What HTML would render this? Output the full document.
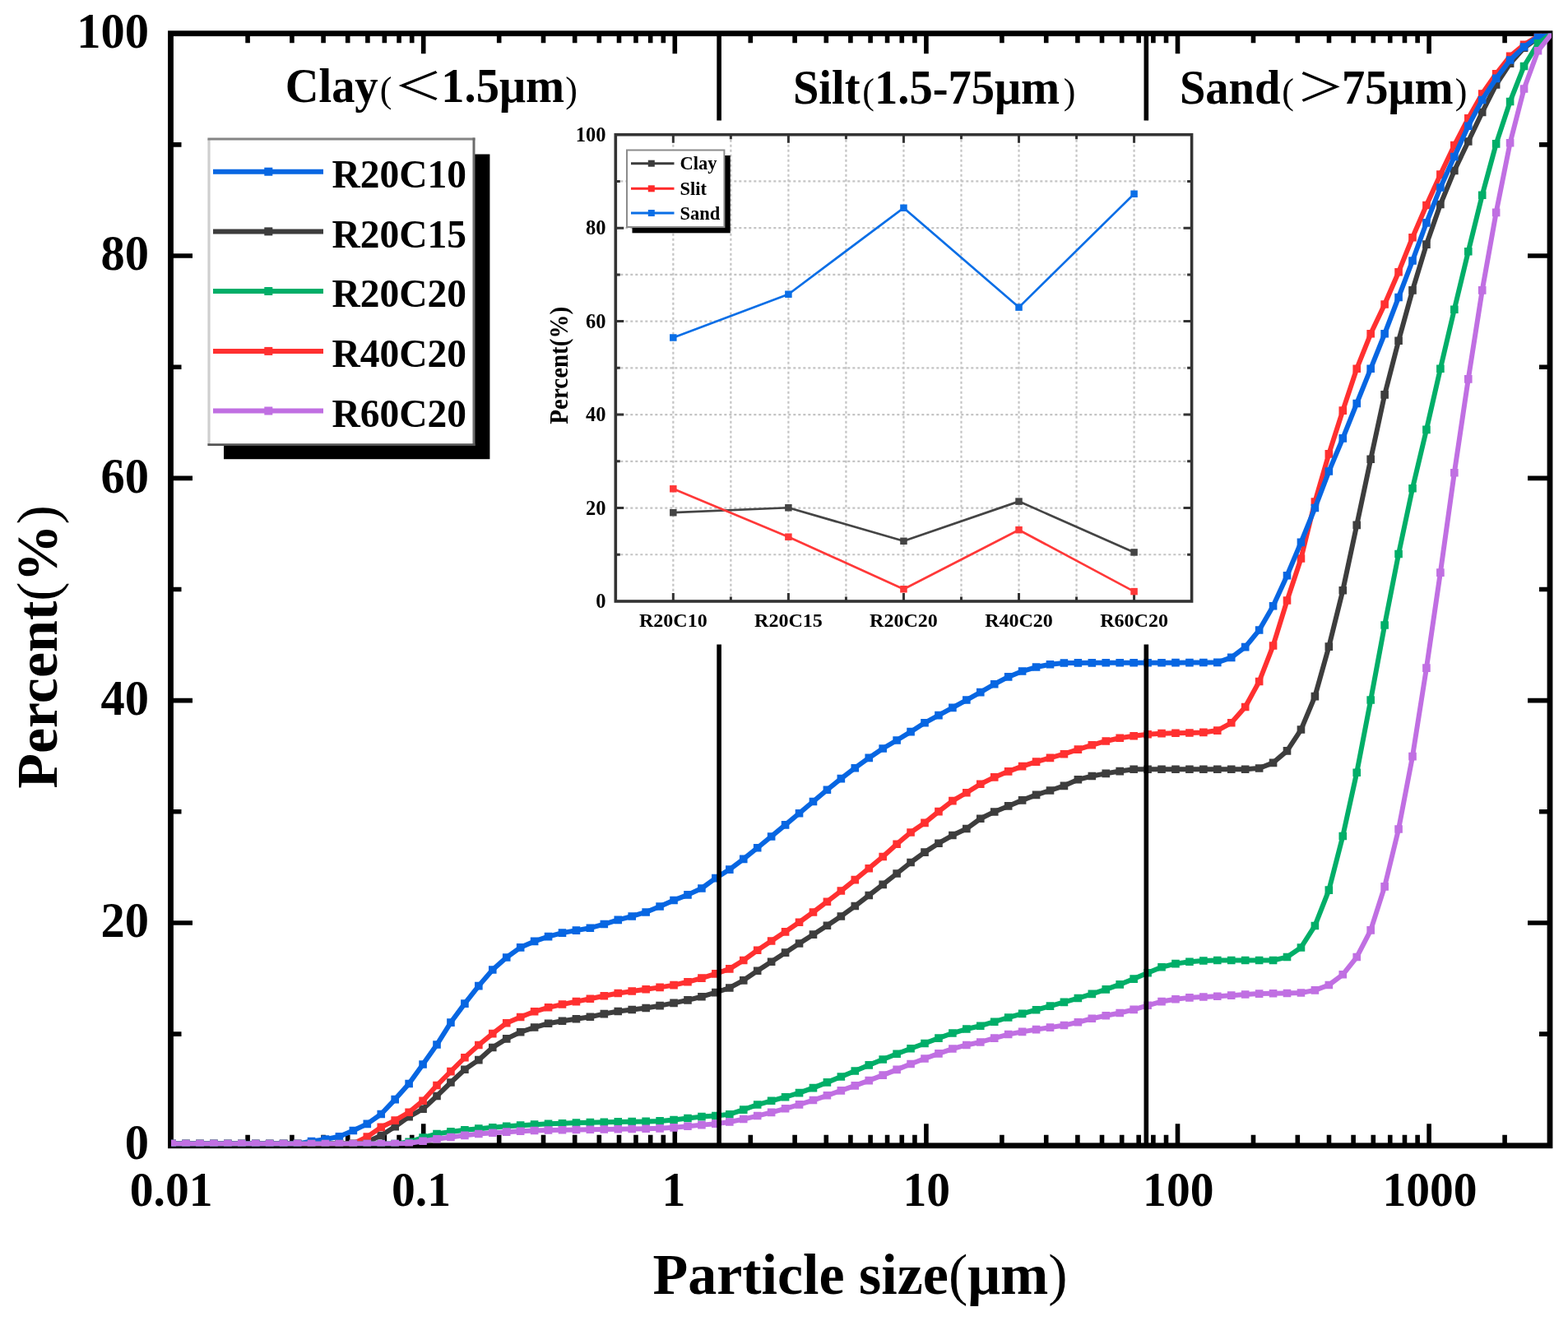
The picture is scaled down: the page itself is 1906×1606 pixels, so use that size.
<!DOCTYPE html>
<html><head><meta charset="utf-8"><title>Particle size distribution</title><style>
html,body{margin:0;padding:0;background:#fff;width:1906px;height:1606px;overflow:hidden}
svg{display:block}
text{font-family:"Liberation Serif","Noto Serif CJK SC",serif;font-weight:bold;fill:#000}
.thin{font-weight:normal}
</style></head><body>
<svg width="1906" height="1606" viewBox="0 0 1906 1606">
<rect width="1906" height="1606" fill="#fff"/>
<defs><clipPath id="pc"><rect x="208" y="40.7" width="1678" height="1352.9"/></clipPath></defs>
<path d="M301.09 1392.8V1379.8M301.09 40.7V52.2M354.91 1392.8V1379.8M354.91 40.7V52.2M393.09 1392.8V1379.8M393.09 40.7V52.2M422.71 1392.8V1379.8M422.71 40.7V52.2M446.9 1392.8V1379.8M446.9 40.7V52.2M467.36 1392.8V1379.8M467.36 40.7V52.2M485.08 1392.8V1379.8M485.08 40.7V52.2M500.72 1392.8V1379.8M500.72 40.7V52.2M514.7 1392.8V1366.3M514.7 40.7V65.2M606.69 1392.8V1379.8M606.69 40.7V52.2M660.51 1392.8V1379.8M660.51 40.7V52.2M698.69 1392.8V1379.8M698.69 40.7V52.2M728.31 1392.8V1379.8M728.31 40.7V52.2M752.5 1392.8V1379.8M752.5 40.7V52.2M772.96 1392.8V1379.8M772.96 40.7V52.2M790.68 1392.8V1379.8M790.68 40.7V52.2M806.32 1392.8V1379.8M806.32 40.7V52.2M820.3 1392.8V1366.3M820.3 40.7V65.2M912.29 1392.8V1379.8M912.29 40.7V52.2M966.11 1392.8V1379.8M966.11 40.7V52.2M1004.29 1392.8V1379.8M1004.29 40.7V52.2M1033.91 1392.8V1379.8M1033.91 40.7V52.2M1058.1 1392.8V1379.8M1058.1 40.7V52.2M1078.56 1392.8V1379.8M1078.56 40.7V52.2M1096.28 1392.8V1379.8M1096.28 40.7V52.2M1111.92 1392.8V1379.8M1111.92 40.7V52.2M1125.9 1392.8V1366.3M1125.9 40.7V65.2M1217.89 1392.8V1379.8M1217.89 40.7V52.2M1271.71 1392.8V1379.8M1271.71 40.7V52.2M1309.89 1392.8V1379.8M1309.89 40.7V52.2M1339.51 1392.8V1379.8M1339.51 40.7V52.2M1363.7 1392.8V1379.8M1363.7 40.7V52.2M1384.16 1392.8V1379.8M1384.16 40.7V52.2M1401.88 1392.8V1379.8M1401.88 40.7V52.2M1417.52 1392.8V1379.8M1417.52 40.7V52.2M1431.5 1392.8V1366.3M1431.5 40.7V65.2M1523.49 1392.8V1379.8M1523.49 40.7V52.2M1577.31 1392.8V1379.8M1577.31 40.7V52.2M1615.49 1392.8V1379.8M1615.49 40.7V52.2M1645.11 1392.8V1379.8M1645.11 40.7V52.2M1669.3 1392.8V1379.8M1669.3 40.7V52.2M1689.76 1392.8V1379.8M1689.76 40.7V52.2M1707.48 1392.8V1379.8M1707.48 40.7V52.2M1723.12 1392.8V1379.8M1723.12 40.7V52.2M1737.1 1392.8V1366.3M1737.1 40.7V65.2M1829.09 1392.8V1379.8M1829.09 40.7V52.2" stroke="#000" stroke-width="5.6" fill="none"/>
<path d="M207.5 1257.14H220.5M1884 1257.14H1871M207.5 1121.98H234M1884 1121.98H1857M207.5 986.82H220.5M1884 986.82H1871M207.5 851.66H234M1884 851.66H1857M207.5 716.5H220.5M1884 716.5H1871M207.5 581.34H234M1884 581.34H1857M207.5 446.18H220.5M1884 446.18H1871M207.5 311.02H234M1884 311.02H1857M207.5 175.86H220.5M1884 175.86H1871" stroke="#000" stroke-width="5.6" fill="none"/>
<rect x="207.5" y="40.7" width="1676.5" height="1352.1" fill="none" stroke="#000" stroke-width="6.8"/>
<g clip-path="url(#pc)">
<polyline points="209.1,1390.6 226.04,1390.6 242.99,1390.6 259.93,1390.6 276.87,1390.6 293.81,1390.6 310.76,1390.6 327.7,1390.6 344.64,1390.6 361.58,1390.6 378.53,1390.6 395.47,1390.6 412.41,1390.6 429.35,1390.6 446.3,1388.25 463.24,1380.51 480.18,1369.79 497.13,1357.66 514.07,1348.23 531.01,1332.44 547.95,1315.99 564.9,1300.26 581.84,1288.64 598.78,1273.52 615.72,1262.85 632.67,1254.75 649.61,1249.06 666.55,1244.26 683.49,1241.27 700.44,1238.8 717.38,1236.21 734.32,1232.64 751.27,1229.45 768.21,1227.46 785.15,1225.45 802.09,1222.67 819.04,1219.42 835.98,1215.85 852.92,1211.73 869.86,1206.63 886.81,1200.98 903.75,1191.85 920.69,1180.3 937.63,1169.29 954.58,1158.17 971.52,1147.05 988.46,1136.17 1005.41,1125.32 1022.35,1113.94 1039.29,1101.57 1056.23,1088.5 1073.18,1075.36 1090.12,1061.98 1107.06,1048.52 1124,1036.12 1140.95,1025.22 1157.89,1015.57 1174.83,1007.56 1191.77,995.25 1208.72,986.93 1225.66,979.9 1242.6,972.88 1259.55,966.4 1276.49,960.99 1293.43,955.33 1310.37,947.74 1327.32,943.57 1344.26,940.36 1361.2,937.58 1378.14,935.31 1395.09,935.28 1412.03,935.26 1428.97,935.25 1445.92,935.25 1462.86,935.24 1479.8,935.23 1496.74,935.21 1513.69,935.18 1530.63,934.02 1547.57,927.34 1564.51,912.87 1581.46,887.04 1598.4,846.61 1615.34,786.17 1632.28,717.75 1649.23,638.37 1666.17,558.32 1683.11,479.89 1700.06,414.31 1717,352.92 1733.94,297.08 1750.88,248.53 1767.83,207.43 1784.77,172 1801.71,136.57 1818.65,102.9 1835.6,77.21 1852.54,58.28 1869.48,46.11 1886.42,40.7" fill="none" stroke="#3d3d3d" stroke-width="6.0" stroke-linejoin="round"/><path d="M204.3 1385.8h9.6v9.6h-9.6zM221.24 1385.8h9.6v9.6h-9.6zM238.19 1385.8h9.6v9.6h-9.6zM255.13 1385.8h9.6v9.6h-9.6zM272.07 1385.8h9.6v9.6h-9.6zM289.01 1385.8h9.6v9.6h-9.6zM305.96 1385.8h9.6v9.6h-9.6zM322.9 1385.8h9.6v9.6h-9.6zM339.84 1385.8h9.6v9.6h-9.6zM356.78 1385.8h9.6v9.6h-9.6zM373.73 1385.8h9.6v9.6h-9.6zM390.67 1385.8h9.6v9.6h-9.6zM407.61 1385.8h9.6v9.6h-9.6zM424.55 1385.8h9.6v9.6h-9.6zM441.5 1383.45h9.6v9.6h-9.6zM458.44 1375.71h9.6v9.6h-9.6zM475.38 1364.99h9.6v9.6h-9.6zM492.33 1352.86h9.6v9.6h-9.6zM509.27 1343.43h9.6v9.6h-9.6zM526.21 1327.64h9.6v9.6h-9.6zM543.15 1311.19h9.6v9.6h-9.6zM560.1 1295.46h9.6v9.6h-9.6zM577.04 1283.84h9.6v9.6h-9.6zM593.98 1268.72h9.6v9.6h-9.6zM610.92 1258.05h9.6v9.6h-9.6zM627.87 1249.95h9.6v9.6h-9.6zM644.81 1244.26h9.6v9.6h-9.6zM661.75 1239.46h9.6v9.6h-9.6zM678.69 1236.47h9.6v9.6h-9.6zM695.64 1234h9.6v9.6h-9.6zM712.58 1231.41h9.6v9.6h-9.6zM729.52 1227.84h9.6v9.6h-9.6zM746.47 1224.65h9.6v9.6h-9.6zM763.41 1222.66h9.6v9.6h-9.6zM780.35 1220.65h9.6v9.6h-9.6zM797.29 1217.87h9.6v9.6h-9.6zM814.24 1214.62h9.6v9.6h-9.6zM831.18 1211.05h9.6v9.6h-9.6zM848.12 1206.93h9.6v9.6h-9.6zM865.06 1201.83h9.6v9.6h-9.6zM882.01 1196.18h9.6v9.6h-9.6zM898.95 1187.05h9.6v9.6h-9.6zM915.89 1175.5h9.6v9.6h-9.6zM932.83 1164.49h9.6v9.6h-9.6zM949.78 1153.37h9.6v9.6h-9.6zM966.72 1142.25h9.6v9.6h-9.6zM983.66 1131.37h9.6v9.6h-9.6zM1000.61 1120.52h9.6v9.6h-9.6zM1017.55 1109.14h9.6v9.6h-9.6zM1034.49 1096.77h9.6v9.6h-9.6zM1051.43 1083.7h9.6v9.6h-9.6zM1068.38 1070.56h9.6v9.6h-9.6zM1085.32 1057.18h9.6v9.6h-9.6zM1102.26 1043.72h9.6v9.6h-9.6zM1119.2 1031.32h9.6v9.6h-9.6zM1136.15 1020.42h9.6v9.6h-9.6zM1153.09 1010.77h9.6v9.6h-9.6zM1170.03 1002.76h9.6v9.6h-9.6zM1186.97 990.45h9.6v9.6h-9.6zM1203.92 982.13h9.6v9.6h-9.6zM1220.86 975.1h9.6v9.6h-9.6zM1237.8 968.08h9.6v9.6h-9.6zM1254.75 961.6h9.6v9.6h-9.6zM1271.69 956.19h9.6v9.6h-9.6zM1288.63 950.53h9.6v9.6h-9.6zM1305.57 942.94h9.6v9.6h-9.6zM1322.52 938.77h9.6v9.6h-9.6zM1339.46 935.56h9.6v9.6h-9.6zM1356.4 932.78h9.6v9.6h-9.6zM1373.34 930.51h9.6v9.6h-9.6zM1390.29 930.48h9.6v9.6h-9.6zM1407.23 930.46h9.6v9.6h-9.6zM1424.17 930.45h9.6v9.6h-9.6zM1441.12 930.45h9.6v9.6h-9.6zM1458.06 930.44h9.6v9.6h-9.6zM1475 930.43h9.6v9.6h-9.6zM1491.94 930.41h9.6v9.6h-9.6zM1508.89 930.38h9.6v9.6h-9.6zM1525.83 929.22h9.6v9.6h-9.6zM1542.77 922.54h9.6v9.6h-9.6zM1559.71 908.07h9.6v9.6h-9.6zM1576.66 882.24h9.6v9.6h-9.6zM1593.6 841.81h9.6v9.6h-9.6zM1610.54 781.37h9.6v9.6h-9.6zM1627.48 712.95h9.6v9.6h-9.6zM1644.43 633.57h9.6v9.6h-9.6zM1661.37 553.52h9.6v9.6h-9.6zM1678.31 475.09h9.6v9.6h-9.6zM1695.26 409.51h9.6v9.6h-9.6zM1712.2 348.12h9.6v9.6h-9.6zM1729.14 292.28h9.6v9.6h-9.6zM1746.08 243.73h9.6v9.6h-9.6zM1763.03 202.63h9.6v9.6h-9.6zM1779.97 167.2h9.6v9.6h-9.6zM1796.91 131.77h9.6v9.6h-9.6zM1813.85 98.1h9.6v9.6h-9.6zM1830.8 72.41h9.6v9.6h-9.6zM1847.74 53.48h9.6v9.6h-9.6zM1864.68 41.31h9.6v9.6h-9.6zM1881.62 35.9h9.6v9.6h-9.6z" fill="#3d3d3d"/>
<polyline points="209.1,1390.6 226.04,1390.6 242.99,1390.6 259.93,1390.6 276.87,1390.6 293.81,1390.6 310.76,1390.6 327.7,1390.6 344.64,1390.6 361.58,1390.6 378.53,1390.6 395.47,1390.6 412.41,1390.6 429.35,1390.44 446.3,1382.15 463.24,1370.39 480.18,1362.08 497.13,1352.24 514.07,1338.22 531.01,1319.57 547.95,1302.67 564.9,1285.75 581.84,1270.48 598.78,1256.62 615.72,1243.68 632.67,1236.44 649.61,1229.81 666.55,1224.82 683.49,1221.07 700.44,1217.63 717.38,1214.27 734.32,1210.7 751.27,1207.51 768.21,1205.05 785.15,1202.73 802.09,1200.38 819.04,1197.66 835.98,1193.77 852.92,1189.14 869.86,1183.91 886.81,1177.85 903.75,1167.48 920.69,1155.26 937.63,1144.07 954.58,1132.87 971.52,1121.24 988.46,1108.96 1005.41,1096.2 1022.35,1083.07 1039.29,1069.58 1056.23,1055.68 1073.18,1041.43 1090.12,1026.19 1107.06,1011.93 1124,1000.36 1140.95,986.59 1157.89,973.65 1174.83,963.75 1191.77,953.18 1208.72,944.9 1225.66,937.84 1242.6,931.62 1259.55,926.11 1276.49,921.36 1293.43,916.69 1310.37,911.16 1327.32,905.8 1344.26,900.97 1361.2,897.29 1378.14,894.79 1395.09,892.82 1412.03,891.65 1428.97,891.2 1445.92,890.94 1462.86,890.42 1479.8,888.08 1496.74,878.81 1513.69,859.45 1530.63,828.5 1547.57,784.95 1564.51,730.05 1581.46,678.94 1598.4,610.11 1615.34,551.83 1632.28,499.1 1649.23,448.25 1666.17,405.79 1683.11,369.96 1700.06,330.75 1717,288.69 1733.94,249.48 1750.88,212.16 1767.83,176.6 1784.77,143.87 1801.71,113.99 1818.65,89.78 1835.6,68.28 1852.54,54.36 1869.48,44.08 1886.42,40.7" fill="none" stroke="#ff3030" stroke-width="6.0" stroke-linejoin="round"/><path d="M204.3 1385.8h9.6v9.6h-9.6zM221.24 1385.8h9.6v9.6h-9.6zM238.19 1385.8h9.6v9.6h-9.6zM255.13 1385.8h9.6v9.6h-9.6zM272.07 1385.8h9.6v9.6h-9.6zM289.01 1385.8h9.6v9.6h-9.6zM305.96 1385.8h9.6v9.6h-9.6zM322.9 1385.8h9.6v9.6h-9.6zM339.84 1385.8h9.6v9.6h-9.6zM356.78 1385.8h9.6v9.6h-9.6zM373.73 1385.8h9.6v9.6h-9.6zM390.67 1385.8h9.6v9.6h-9.6zM407.61 1385.8h9.6v9.6h-9.6zM424.55 1385.64h9.6v9.6h-9.6zM441.5 1377.35h9.6v9.6h-9.6zM458.44 1365.59h9.6v9.6h-9.6zM475.38 1357.28h9.6v9.6h-9.6zM492.33 1347.44h9.6v9.6h-9.6zM509.27 1333.42h9.6v9.6h-9.6zM526.21 1314.77h9.6v9.6h-9.6zM543.15 1297.87h9.6v9.6h-9.6zM560.1 1280.95h9.6v9.6h-9.6zM577.04 1265.68h9.6v9.6h-9.6zM593.98 1251.82h9.6v9.6h-9.6zM610.92 1238.88h9.6v9.6h-9.6zM627.87 1231.64h9.6v9.6h-9.6zM644.81 1225.01h9.6v9.6h-9.6zM661.75 1220.02h9.6v9.6h-9.6zM678.69 1216.27h9.6v9.6h-9.6zM695.64 1212.83h9.6v9.6h-9.6zM712.58 1209.47h9.6v9.6h-9.6zM729.52 1205.9h9.6v9.6h-9.6zM746.47 1202.71h9.6v9.6h-9.6zM763.41 1200.25h9.6v9.6h-9.6zM780.35 1197.93h9.6v9.6h-9.6zM797.29 1195.58h9.6v9.6h-9.6zM814.24 1192.86h9.6v9.6h-9.6zM831.18 1188.97h9.6v9.6h-9.6zM848.12 1184.34h9.6v9.6h-9.6zM865.06 1179.11h9.6v9.6h-9.6zM882.01 1173.05h9.6v9.6h-9.6zM898.95 1162.68h9.6v9.6h-9.6zM915.89 1150.46h9.6v9.6h-9.6zM932.83 1139.27h9.6v9.6h-9.6zM949.78 1128.07h9.6v9.6h-9.6zM966.72 1116.44h9.6v9.6h-9.6zM983.66 1104.16h9.6v9.6h-9.6zM1000.61 1091.4h9.6v9.6h-9.6zM1017.55 1078.27h9.6v9.6h-9.6zM1034.49 1064.78h9.6v9.6h-9.6zM1051.43 1050.88h9.6v9.6h-9.6zM1068.38 1036.63h9.6v9.6h-9.6zM1085.32 1021.39h9.6v9.6h-9.6zM1102.26 1007.13h9.6v9.6h-9.6zM1119.2 995.56h9.6v9.6h-9.6zM1136.15 981.79h9.6v9.6h-9.6zM1153.09 968.85h9.6v9.6h-9.6zM1170.03 958.95h9.6v9.6h-9.6zM1186.97 948.38h9.6v9.6h-9.6zM1203.92 940.1h9.6v9.6h-9.6zM1220.86 933.04h9.6v9.6h-9.6zM1237.8 926.82h9.6v9.6h-9.6zM1254.75 921.31h9.6v9.6h-9.6zM1271.69 916.56h9.6v9.6h-9.6zM1288.63 911.89h9.6v9.6h-9.6zM1305.57 906.36h9.6v9.6h-9.6zM1322.52 901h9.6v9.6h-9.6zM1339.46 896.17h9.6v9.6h-9.6zM1356.4 892.49h9.6v9.6h-9.6zM1373.34 889.99h9.6v9.6h-9.6zM1390.29 888.02h9.6v9.6h-9.6zM1407.23 886.85h9.6v9.6h-9.6zM1424.17 886.4h9.6v9.6h-9.6zM1441.12 886.14h9.6v9.6h-9.6zM1458.06 885.62h9.6v9.6h-9.6zM1475 883.28h9.6v9.6h-9.6zM1491.94 874.01h9.6v9.6h-9.6zM1508.89 854.65h9.6v9.6h-9.6zM1525.83 823.7h9.6v9.6h-9.6zM1542.77 780.15h9.6v9.6h-9.6zM1559.71 725.25h9.6v9.6h-9.6zM1576.66 674.14h9.6v9.6h-9.6zM1593.6 605.31h9.6v9.6h-9.6zM1610.54 547.03h9.6v9.6h-9.6zM1627.48 494.3h9.6v9.6h-9.6zM1644.43 443.45h9.6v9.6h-9.6zM1661.37 400.99h9.6v9.6h-9.6zM1678.31 365.16h9.6v9.6h-9.6zM1695.26 325.95h9.6v9.6h-9.6zM1712.2 283.89h9.6v9.6h-9.6zM1729.14 244.68h9.6v9.6h-9.6zM1746.08 207.36h9.6v9.6h-9.6zM1763.03 171.8h9.6v9.6h-9.6zM1779.97 139.07h9.6v9.6h-9.6zM1796.91 109.19h9.6v9.6h-9.6zM1813.85 84.98h9.6v9.6h-9.6zM1830.8 63.48h9.6v9.6h-9.6zM1847.74 49.56h9.6v9.6h-9.6zM1864.68 39.28h9.6v9.6h-9.6zM1881.62 35.9h9.6v9.6h-9.6z" fill="#ff3030"/>
<polyline points="209.1,1390.6 226.04,1390.6 242.99,1390.6 259.93,1390.6 276.87,1390.6 293.81,1390.6 310.76,1390.6 327.7,1390.6 344.64,1390.6 361.58,1390.6 378.53,1387.52 395.47,1385.16 412.41,1381.71 429.35,1374.52 446.3,1366.36 463.24,1354.48 480.18,1336.61 497.13,1317.45 514.07,1293.93 531.01,1270.04 547.95,1243.09 564.9,1220.14 581.84,1198.65 598.78,1178.97 615.72,1164.04 632.67,1151.85 649.61,1144.42 666.55,1138.65 683.49,1134.09 700.44,1131.11 717.38,1128.21 734.32,1123.52 751.27,1118.34 768.21,1113.95 785.15,1108.94 802.09,1101.93 819.04,1094.45 835.98,1087.9 852.92,1080.02 869.86,1067.66 886.81,1057.08 903.75,1044.39 920.69,1030.74 937.63,1016.93 954.58,1002.84 971.52,988.74 988.46,974.51 1005.41,960.26 1022.35,946.62 1039.29,933.73 1056.23,921.4 1073.18,909.97 1090.12,900 1107.06,889.67 1124,878.77 1140.95,869.63 1157.89,860.36 1174.83,851.01 1191.77,841.63 1208.72,831.78 1225.66,822.92 1242.6,816.04 1259.55,811.04 1276.49,807.68 1293.43,806.04 1310.37,805.91 1327.32,805.83 1344.26,805.78 1361.2,805.75 1378.14,805.73 1395.09,805.72 1412.03,805.7 1428.97,805.67 1445.92,805.61 1462.86,805.51 1479.8,805.37 1496.74,799.39 1513.69,786.66 1530.63,766.07 1547.57,736.81 1564.51,699.76 1581.46,659.33 1598.4,617.55 1615.34,573.06 1632.28,532.9 1649.23,490.44 1666.17,448.25 1683.11,405.79 1700.06,361.44 1717,316.95 1733.94,270.84 1750.88,227.98 1767.83,190.52 1784.77,153.2 1801.71,121.43 1818.65,95.33 1835.6,73.02 1852.54,57.06 1869.48,44.76 1886.42,40.7" fill="none" stroke="#0766e2" stroke-width="6.0" stroke-linejoin="round"/><path d="M204.3 1385.8h9.6v9.6h-9.6zM221.24 1385.8h9.6v9.6h-9.6zM238.19 1385.8h9.6v9.6h-9.6zM255.13 1385.8h9.6v9.6h-9.6zM272.07 1385.8h9.6v9.6h-9.6zM289.01 1385.8h9.6v9.6h-9.6zM305.96 1385.8h9.6v9.6h-9.6zM322.9 1385.8h9.6v9.6h-9.6zM339.84 1385.8h9.6v9.6h-9.6zM356.78 1385.8h9.6v9.6h-9.6zM373.73 1382.72h9.6v9.6h-9.6zM390.67 1380.36h9.6v9.6h-9.6zM407.61 1376.91h9.6v9.6h-9.6zM424.55 1369.72h9.6v9.6h-9.6zM441.5 1361.56h9.6v9.6h-9.6zM458.44 1349.68h9.6v9.6h-9.6zM475.38 1331.81h9.6v9.6h-9.6zM492.33 1312.65h9.6v9.6h-9.6zM509.27 1289.13h9.6v9.6h-9.6zM526.21 1265.24h9.6v9.6h-9.6zM543.15 1238.29h9.6v9.6h-9.6zM560.1 1215.34h9.6v9.6h-9.6zM577.04 1193.85h9.6v9.6h-9.6zM593.98 1174.17h9.6v9.6h-9.6zM610.92 1159.24h9.6v9.6h-9.6zM627.87 1147.05h9.6v9.6h-9.6zM644.81 1139.62h9.6v9.6h-9.6zM661.75 1133.85h9.6v9.6h-9.6zM678.69 1129.29h9.6v9.6h-9.6zM695.64 1126.31h9.6v9.6h-9.6zM712.58 1123.41h9.6v9.6h-9.6zM729.52 1118.72h9.6v9.6h-9.6zM746.47 1113.54h9.6v9.6h-9.6zM763.41 1109.15h9.6v9.6h-9.6zM780.35 1104.14h9.6v9.6h-9.6zM797.29 1097.13h9.6v9.6h-9.6zM814.24 1089.65h9.6v9.6h-9.6zM831.18 1083.1h9.6v9.6h-9.6zM848.12 1075.22h9.6v9.6h-9.6zM865.06 1062.86h9.6v9.6h-9.6zM882.01 1052.28h9.6v9.6h-9.6zM898.95 1039.59h9.6v9.6h-9.6zM915.89 1025.94h9.6v9.6h-9.6zM932.83 1012.13h9.6v9.6h-9.6zM949.78 998.04h9.6v9.6h-9.6zM966.72 983.94h9.6v9.6h-9.6zM983.66 969.71h9.6v9.6h-9.6zM1000.61 955.46h9.6v9.6h-9.6zM1017.55 941.82h9.6v9.6h-9.6zM1034.49 928.93h9.6v9.6h-9.6zM1051.43 916.6h9.6v9.6h-9.6zM1068.38 905.17h9.6v9.6h-9.6zM1085.32 895.2h9.6v9.6h-9.6zM1102.26 884.87h9.6v9.6h-9.6zM1119.2 873.97h9.6v9.6h-9.6zM1136.15 864.83h9.6v9.6h-9.6zM1153.09 855.56h9.6v9.6h-9.6zM1170.03 846.21h9.6v9.6h-9.6zM1186.97 836.83h9.6v9.6h-9.6zM1203.92 826.98h9.6v9.6h-9.6zM1220.86 818.12h9.6v9.6h-9.6zM1237.8 811.24h9.6v9.6h-9.6zM1254.75 806.24h9.6v9.6h-9.6zM1271.69 802.88h9.6v9.6h-9.6zM1288.63 801.24h9.6v9.6h-9.6zM1305.57 801.11h9.6v9.6h-9.6zM1322.52 801.03h9.6v9.6h-9.6zM1339.46 800.98h9.6v9.6h-9.6zM1356.4 800.95h9.6v9.6h-9.6zM1373.34 800.93h9.6v9.6h-9.6zM1390.29 800.92h9.6v9.6h-9.6zM1407.23 800.9h9.6v9.6h-9.6zM1424.17 800.87h9.6v9.6h-9.6zM1441.12 800.81h9.6v9.6h-9.6zM1458.06 800.71h9.6v9.6h-9.6zM1475 800.57h9.6v9.6h-9.6zM1491.94 794.59h9.6v9.6h-9.6zM1508.89 781.86h9.6v9.6h-9.6zM1525.83 761.27h9.6v9.6h-9.6zM1542.77 732.01h9.6v9.6h-9.6zM1559.71 694.96h9.6v9.6h-9.6zM1576.66 654.53h9.6v9.6h-9.6zM1593.6 612.75h9.6v9.6h-9.6zM1610.54 568.26h9.6v9.6h-9.6zM1627.48 528.1h9.6v9.6h-9.6zM1644.43 485.64h9.6v9.6h-9.6zM1661.37 443.45h9.6v9.6h-9.6zM1678.31 400.99h9.6v9.6h-9.6zM1695.26 356.64h9.6v9.6h-9.6zM1712.2 312.15h9.6v9.6h-9.6zM1729.14 266.04h9.6v9.6h-9.6zM1746.08 223.18h9.6v9.6h-9.6zM1763.03 185.72h9.6v9.6h-9.6zM1779.97 148.4h9.6v9.6h-9.6zM1796.91 116.63h9.6v9.6h-9.6zM1813.85 90.53h9.6v9.6h-9.6zM1830.8 68.22h9.6v9.6h-9.6zM1847.74 52.26h9.6v9.6h-9.6zM1864.68 39.96h9.6v9.6h-9.6zM1881.62 35.9h9.6v9.6h-9.6z" fill="#0766e2"/>
<polyline points="209.1,1390.6 226.04,1390.6 242.99,1390.6 259.93,1390.6 276.87,1390.6 293.81,1390.6 310.76,1390.6 327.7,1390.6 344.64,1390.6 361.58,1390.6 378.53,1390.6 395.47,1390.6 412.41,1390.6 429.35,1390.6 446.3,1390.6 463.24,1390.6 480.18,1390.6 497.13,1388.31 514.07,1383 531.01,1378.53 547.95,1375.91 564.9,1373.84 581.84,1372.16 598.78,1370.69 615.72,1369.35 632.67,1368.16 649.61,1367.15 666.55,1366.34 683.49,1365.68 700.44,1365.11 717.38,1364.63 734.32,1364.21 751.27,1363.91 768.21,1363.67 785.15,1363.39 802.09,1362.91 819.04,1361.5 835.98,1359.43 852.92,1357.61 869.86,1356.6 886.81,1354.69 903.75,1349.12 920.69,1343.02 937.63,1338.3 954.58,1333.75 971.52,1328.67 988.46,1322.61 1005.41,1315.91 1022.35,1309.06 1039.29,1302.05 1056.23,1294.88 1073.18,1287.94 1090.12,1281.27 1107.06,1274.78 1124,1268.5 1140.95,1262.12 1157.89,1256.04 1174.83,1251.04 1191.77,1247.21 1208.72,1242.2 1225.66,1237 1242.6,1232.33 1259.55,1227.76 1276.49,1223.12 1293.43,1218.41 1310.37,1213.52 1327.32,1208.42 1344.26,1202.87 1361.2,1196.86 1378.14,1190.08 1395.09,1182.73 1412.03,1175.74 1428.97,1171.61 1445.92,1169.18 1462.86,1168.02 1479.8,1167.49 1496.74,1167.49 1513.69,1167.49 1530.63,1167.49 1547.57,1167.49 1564.51,1163.57 1581.46,1151.94 1598.4,1125.43 1615.34,1082.16 1632.28,1016.45 1649.23,939.24 1666.17,851.07 1683.11,760.07 1700.06,673.53 1717,593.75 1733.94,522.35 1750.88,448.25 1767.83,376.18 1784.77,305.73 1801.71,237.31 1818.65,174.84 1835.6,123.45 1852.54,80.45 1869.48,52.87 1886.42,40.7" fill="none" stroke="#00ae68" stroke-width="6.0" stroke-linejoin="round"/><path d="M204.3 1385.8h9.6v9.6h-9.6zM221.24 1385.8h9.6v9.6h-9.6zM238.19 1385.8h9.6v9.6h-9.6zM255.13 1385.8h9.6v9.6h-9.6zM272.07 1385.8h9.6v9.6h-9.6zM289.01 1385.8h9.6v9.6h-9.6zM305.96 1385.8h9.6v9.6h-9.6zM322.9 1385.8h9.6v9.6h-9.6zM339.84 1385.8h9.6v9.6h-9.6zM356.78 1385.8h9.6v9.6h-9.6zM373.73 1385.8h9.6v9.6h-9.6zM390.67 1385.8h9.6v9.6h-9.6zM407.61 1385.8h9.6v9.6h-9.6zM424.55 1385.8h9.6v9.6h-9.6zM441.5 1385.8h9.6v9.6h-9.6zM458.44 1385.8h9.6v9.6h-9.6zM475.38 1385.8h9.6v9.6h-9.6zM492.33 1383.51h9.6v9.6h-9.6zM509.27 1378.2h9.6v9.6h-9.6zM526.21 1373.73h9.6v9.6h-9.6zM543.15 1371.11h9.6v9.6h-9.6zM560.1 1369.04h9.6v9.6h-9.6zM577.04 1367.36h9.6v9.6h-9.6zM593.98 1365.89h9.6v9.6h-9.6zM610.92 1364.55h9.6v9.6h-9.6zM627.87 1363.36h9.6v9.6h-9.6zM644.81 1362.35h9.6v9.6h-9.6zM661.75 1361.54h9.6v9.6h-9.6zM678.69 1360.88h9.6v9.6h-9.6zM695.64 1360.31h9.6v9.6h-9.6zM712.58 1359.83h9.6v9.6h-9.6zM729.52 1359.41h9.6v9.6h-9.6zM746.47 1359.11h9.6v9.6h-9.6zM763.41 1358.87h9.6v9.6h-9.6zM780.35 1358.59h9.6v9.6h-9.6zM797.29 1358.11h9.6v9.6h-9.6zM814.24 1356.7h9.6v9.6h-9.6zM831.18 1354.63h9.6v9.6h-9.6zM848.12 1352.81h9.6v9.6h-9.6zM865.06 1351.8h9.6v9.6h-9.6zM882.01 1349.89h9.6v9.6h-9.6zM898.95 1344.32h9.6v9.6h-9.6zM915.89 1338.22h9.6v9.6h-9.6zM932.83 1333.5h9.6v9.6h-9.6zM949.78 1328.95h9.6v9.6h-9.6zM966.72 1323.87h9.6v9.6h-9.6zM983.66 1317.81h9.6v9.6h-9.6zM1000.61 1311.11h9.6v9.6h-9.6zM1017.55 1304.26h9.6v9.6h-9.6zM1034.49 1297.25h9.6v9.6h-9.6zM1051.43 1290.08h9.6v9.6h-9.6zM1068.38 1283.14h9.6v9.6h-9.6zM1085.32 1276.47h9.6v9.6h-9.6zM1102.26 1269.98h9.6v9.6h-9.6zM1119.2 1263.7h9.6v9.6h-9.6zM1136.15 1257.32h9.6v9.6h-9.6zM1153.09 1251.24h9.6v9.6h-9.6zM1170.03 1246.24h9.6v9.6h-9.6zM1186.97 1242.41h9.6v9.6h-9.6zM1203.92 1237.4h9.6v9.6h-9.6zM1220.86 1232.2h9.6v9.6h-9.6zM1237.8 1227.53h9.6v9.6h-9.6zM1254.75 1222.96h9.6v9.6h-9.6zM1271.69 1218.32h9.6v9.6h-9.6zM1288.63 1213.61h9.6v9.6h-9.6zM1305.57 1208.72h9.6v9.6h-9.6zM1322.52 1203.62h9.6v9.6h-9.6zM1339.46 1198.07h9.6v9.6h-9.6zM1356.4 1192.06h9.6v9.6h-9.6zM1373.34 1185.28h9.6v9.6h-9.6zM1390.29 1177.93h9.6v9.6h-9.6zM1407.23 1170.94h9.6v9.6h-9.6zM1424.17 1166.81h9.6v9.6h-9.6zM1441.12 1164.38h9.6v9.6h-9.6zM1458.06 1163.22h9.6v9.6h-9.6zM1475 1162.69h9.6v9.6h-9.6zM1491.94 1162.69h9.6v9.6h-9.6zM1508.89 1162.69h9.6v9.6h-9.6zM1525.83 1162.69h9.6v9.6h-9.6zM1542.77 1162.69h9.6v9.6h-9.6zM1559.71 1158.77h9.6v9.6h-9.6zM1576.66 1147.14h9.6v9.6h-9.6zM1593.6 1120.63h9.6v9.6h-9.6zM1610.54 1077.36h9.6v9.6h-9.6zM1627.48 1011.65h9.6v9.6h-9.6zM1644.43 934.44h9.6v9.6h-9.6zM1661.37 846.27h9.6v9.6h-9.6zM1678.31 755.27h9.6v9.6h-9.6zM1695.26 668.73h9.6v9.6h-9.6zM1712.2 588.95h9.6v9.6h-9.6zM1729.14 517.55h9.6v9.6h-9.6zM1746.08 443.45h9.6v9.6h-9.6zM1763.03 371.38h9.6v9.6h-9.6zM1779.97 300.93h9.6v9.6h-9.6zM1796.91 232.51h9.6v9.6h-9.6zM1813.85 170.04h9.6v9.6h-9.6zM1830.8 118.65h9.6v9.6h-9.6zM1847.74 75.65h9.6v9.6h-9.6zM1864.68 48.07h9.6v9.6h-9.6zM1881.62 35.9h9.6v9.6h-9.6z" fill="#00ae68"/>
<polyline points="209.1,1390.6 226.04,1390.6 242.99,1390.6 259.93,1390.6 276.87,1390.6 293.81,1390.6 310.76,1390.6 327.7,1390.6 344.64,1390.6 361.58,1390.6 378.53,1390.6 395.47,1390.6 412.41,1390.6 429.35,1390.6 446.3,1390.6 463.24,1390.6 480.18,1390.6 497.13,1390.02 514.07,1387.24 531.01,1384.72 547.95,1382.47 564.9,1380.36 581.84,1378.56 598.78,1377.22 615.72,1376.17 632.67,1375.28 649.61,1374.57 666.55,1374.07 683.49,1373.74 700.44,1373.48 717.38,1373.26 734.32,1373.01 751.27,1372.77 768.21,1372.55 785.15,1372.28 802.09,1371.86 819.04,1370.83 835.98,1369.27 852.92,1367.63 869.86,1366.15 886.81,1364.03 903.75,1360.57 920.69,1356.57 937.63,1352.39 954.58,1347.8 971.52,1342.89 988.46,1337.55 1005.41,1331.81 1022.35,1325.9 1039.29,1319.84 1056.23,1313.58 1073.18,1307.16 1090.12,1300.38 1107.06,1293.48 1124,1287.03 1140.95,1280.83 1157.89,1275.06 1174.83,1270.44 1191.77,1266.99 1208.72,1262.14 1225.66,1257.55 1242.6,1254.36 1259.55,1251.62 1276.49,1249.12 1293.43,1246.56 1310.37,1242.8 1327.32,1238.26 1344.26,1234.69 1361.2,1231.53 1378.14,1227.34 1395.09,1222.31 1412.03,1217.58 1428.97,1214.7 1445.92,1212.86 1462.86,1211.96 1479.8,1211.22 1496.74,1210.14 1513.69,1208.97 1530.63,1208.09 1547.57,1207.71 1564.51,1207.47 1581.46,1206.97 1598.4,1203.86 1615.34,1197.51 1632.28,1184.8 1649.23,1163.57 1666.17,1130.84 1683.11,1077.84 1700.06,1008.06 1717,919.63 1733.94,812.13 1750.88,696.11 1767.83,574.82 1784.77,460.83 1801.71,352.92 1818.65,258.4 1835.6,173.76 1852.54,108.04 1869.48,61.79 1886.42,40.7" fill="none" stroke="#c06fe2" stroke-width="6.0" stroke-linejoin="round"/><path d="M204.3 1385.8h9.6v9.6h-9.6zM221.24 1385.8h9.6v9.6h-9.6zM238.19 1385.8h9.6v9.6h-9.6zM255.13 1385.8h9.6v9.6h-9.6zM272.07 1385.8h9.6v9.6h-9.6zM289.01 1385.8h9.6v9.6h-9.6zM305.96 1385.8h9.6v9.6h-9.6zM322.9 1385.8h9.6v9.6h-9.6zM339.84 1385.8h9.6v9.6h-9.6zM356.78 1385.8h9.6v9.6h-9.6zM373.73 1385.8h9.6v9.6h-9.6zM390.67 1385.8h9.6v9.6h-9.6zM407.61 1385.8h9.6v9.6h-9.6zM424.55 1385.8h9.6v9.6h-9.6zM441.5 1385.8h9.6v9.6h-9.6zM458.44 1385.8h9.6v9.6h-9.6zM475.38 1385.8h9.6v9.6h-9.6zM492.33 1385.22h9.6v9.6h-9.6zM509.27 1382.44h9.6v9.6h-9.6zM526.21 1379.92h9.6v9.6h-9.6zM543.15 1377.67h9.6v9.6h-9.6zM560.1 1375.56h9.6v9.6h-9.6zM577.04 1373.76h9.6v9.6h-9.6zM593.98 1372.42h9.6v9.6h-9.6zM610.92 1371.37h9.6v9.6h-9.6zM627.87 1370.48h9.6v9.6h-9.6zM644.81 1369.77h9.6v9.6h-9.6zM661.75 1369.27h9.6v9.6h-9.6zM678.69 1368.94h9.6v9.6h-9.6zM695.64 1368.68h9.6v9.6h-9.6zM712.58 1368.46h9.6v9.6h-9.6zM729.52 1368.21h9.6v9.6h-9.6zM746.47 1367.97h9.6v9.6h-9.6zM763.41 1367.75h9.6v9.6h-9.6zM780.35 1367.48h9.6v9.6h-9.6zM797.29 1367.06h9.6v9.6h-9.6zM814.24 1366.03h9.6v9.6h-9.6zM831.18 1364.47h9.6v9.6h-9.6zM848.12 1362.83h9.6v9.6h-9.6zM865.06 1361.35h9.6v9.6h-9.6zM882.01 1359.23h9.6v9.6h-9.6zM898.95 1355.77h9.6v9.6h-9.6zM915.89 1351.77h9.6v9.6h-9.6zM932.83 1347.59h9.6v9.6h-9.6zM949.78 1343h9.6v9.6h-9.6zM966.72 1338.09h9.6v9.6h-9.6zM983.66 1332.75h9.6v9.6h-9.6zM1000.61 1327.01h9.6v9.6h-9.6zM1017.55 1321.1h9.6v9.6h-9.6zM1034.49 1315.04h9.6v9.6h-9.6zM1051.43 1308.78h9.6v9.6h-9.6zM1068.38 1302.36h9.6v9.6h-9.6zM1085.32 1295.58h9.6v9.6h-9.6zM1102.26 1288.68h9.6v9.6h-9.6zM1119.2 1282.23h9.6v9.6h-9.6zM1136.15 1276.03h9.6v9.6h-9.6zM1153.09 1270.26h9.6v9.6h-9.6zM1170.03 1265.64h9.6v9.6h-9.6zM1186.97 1262.19h9.6v9.6h-9.6zM1203.92 1257.34h9.6v9.6h-9.6zM1220.86 1252.75h9.6v9.6h-9.6zM1237.8 1249.56h9.6v9.6h-9.6zM1254.75 1246.82h9.6v9.6h-9.6zM1271.69 1244.32h9.6v9.6h-9.6zM1288.63 1241.76h9.6v9.6h-9.6zM1305.57 1238h9.6v9.6h-9.6zM1322.52 1233.46h9.6v9.6h-9.6zM1339.46 1229.89h9.6v9.6h-9.6zM1356.4 1226.73h9.6v9.6h-9.6zM1373.34 1222.54h9.6v9.6h-9.6zM1390.29 1217.51h9.6v9.6h-9.6zM1407.23 1212.78h9.6v9.6h-9.6zM1424.17 1209.9h9.6v9.6h-9.6zM1441.12 1208.06h9.6v9.6h-9.6zM1458.06 1207.16h9.6v9.6h-9.6zM1475 1206.42h9.6v9.6h-9.6zM1491.94 1205.34h9.6v9.6h-9.6zM1508.89 1204.17h9.6v9.6h-9.6zM1525.83 1203.29h9.6v9.6h-9.6zM1542.77 1202.91h9.6v9.6h-9.6zM1559.71 1202.67h9.6v9.6h-9.6zM1576.66 1202.17h9.6v9.6h-9.6zM1593.6 1199.06h9.6v9.6h-9.6zM1610.54 1192.71h9.6v9.6h-9.6zM1627.48 1180h9.6v9.6h-9.6zM1644.43 1158.77h9.6v9.6h-9.6zM1661.37 1126.04h9.6v9.6h-9.6zM1678.31 1073.04h9.6v9.6h-9.6zM1695.26 1003.26h9.6v9.6h-9.6zM1712.2 914.83h9.6v9.6h-9.6zM1729.14 807.33h9.6v9.6h-9.6zM1746.08 691.31h9.6v9.6h-9.6zM1763.03 570.02h9.6v9.6h-9.6zM1779.97 456.03h9.6v9.6h-9.6zM1796.91 348.12h9.6v9.6h-9.6zM1813.85 253.6h9.6v9.6h-9.6zM1830.8 168.96h9.6v9.6h-9.6zM1847.74 103.24h9.6v9.6h-9.6zM1864.68 56.99h9.6v9.6h-9.6zM1881.62 35.9h9.6v9.6h-9.6z" fill="#c06fe2"/>
</g>
<line x1="874.11" y1="40.7" x2="874.11" y2="146.5" stroke="#000" stroke-width="5.6"/>
<line x1="874.11" y1="783.5" x2="874.11" y2="1392.8" stroke="#000" stroke-width="5.6"/>
<line x1="1393.32" y1="40.7" x2="1393.32" y2="146.5" stroke="#000" stroke-width="5.6"/>
<line x1="1393.32" y1="783.5" x2="1393.32" y2="1392.8" stroke="#000" stroke-width="5.6"/>
<text transform="translate(93.28 57.6) scale(1 1.045)" font-size="58.5">100</text>
<text transform="translate(122.53 328.3) scale(1 1.045)" font-size="58.5">80</text>
<text transform="translate(122.53 598.6) scale(1 1.045)" font-size="58.5">60</text>
<text transform="translate(122.53 869) scale(1 1.045)" font-size="58.5">40</text>
<text transform="translate(122.53 1139.4) scale(1 1.045)" font-size="58.5">20</text>
<text transform="translate(151.78 1408.8) scale(1 1.045)" font-size="58.5">0</text>
<text transform="translate(157.74 1465.6) scale(1 1.03)" font-size="57.6">0.01</text>
<text transform="translate(475.94 1465.6) scale(1 1.03)" font-size="57.6">0.1</text>
<text transform="translate(804.58 1465.6) scale(1 1.03)" font-size="57.6">1</text>
<text transform="translate(1097.39 1465.6) scale(1 1.03)" font-size="57.6">10</text>
<text transform="translate(1389.09 1465.6) scale(1 1.03)" font-size="57.6">100</text>
<text transform="translate(1680.44 1465.6) scale(1 1.03)" font-size="57.6">1000</text>
<text x="1045.5" y="1573" font-size="70" text-anchor="middle">Particle size<tspan class="thin">(</tspan>μm<tspan class="thin">)</tspan></text>
<text transform="translate(69 786.5) rotate(-90)" font-size="70" text-anchor="middle">Percent<tspan class="thin">(</tspan>%<tspan class="thin">)</tspan></text>
<text transform="translate(0 124.4) scale(1 1.03)" font-size="56.5"><tspan x="346.64" y="0">Clay</tspan><tspan x="461.67" y="0" class="thin" font-size="44">(</tspan><tspan x="478.16" y="-3.65" font-size="45.1" textLength="60.33" lengthAdjust="spacingAndGlyphs" style="font-family:'Noto Sans CJK SC',sans-serif;font-weight:normal">＜</tspan><tspan x="536.28" y="0">1.5μm</tspan><tspan x="687.18" y="0" class="thin" font-size="44">)</tspan></text>
<text transform="translate(0 126.2) scale(1 1.03)" font-size="56.5"><tspan x="963.89" y="0">Silt</tspan><tspan x="1048.37" y="0" class="thin" font-size="44">(</tspan><tspan x="1063.08" y="0">1.5-75μm</tspan><tspan x="1292.78" y="0" class="thin" font-size="44">)</tspan></text>
<text transform="translate(0 125.8) scale(1 1.03)" font-size="56.5"><tspan x="1433.89" y="0">Sand</tspan><tspan x="1558.27" y="0" class="thin" font-size="44">(</tspan><tspan x="1575.68" y="-2.49" font-size="46.1" textLength="58.79" lengthAdjust="spacingAndGlyphs" style="font-family:'Noto Sans CJK SC',sans-serif;font-weight:normal">＞</tspan><tspan x="1631.07" y="0">75μm</tspan><tspan x="1768.88" y="0" class="thin" font-size="44">)</tspan></text>
<rect x="272" y="187.5" width="323.4" height="370.7" fill="#000"/>
<rect x="254" y="169" width="322" height="371.6" fill="#fff"/>
<path d="M254 169V540.6" stroke="#cfcfcf" stroke-width="3.2" fill="none"/>
<path d="M252.4 169H577.5" stroke="#858585" stroke-width="3.2" fill="none"/>
<path d="M576 167.4V542" stroke="#6c6c6c" stroke-width="3" fill="none"/>
<path d="M252.4 540.6H577.5" stroke="#555" stroke-width="2.6" fill="none"/>
<line x1="259" y1="208.7" x2="393" y2="208.7" stroke="#0766e2" stroke-width="6"/>
<rect x="321.3" y="203.7" width="10" height="10" fill="#0766e2"/>
<text x="403.5" y="227.9" font-size="47.5">R20C10</text>
<line x1="259" y1="281.4" x2="393" y2="281.4" stroke="#3d3d3d" stroke-width="6"/>
<rect x="321.3" y="276.4" width="10" height="10" fill="#3d3d3d"/>
<text x="403.5" y="300.6" font-size="47.5">R20C15</text>
<line x1="259" y1="354" x2="393" y2="354" stroke="#00ae68" stroke-width="6"/>
<rect x="321.3" y="349" width="10" height="10" fill="#00ae68"/>
<text x="403.5" y="373.2" font-size="47.5">R20C20</text>
<line x1="259" y1="426.9" x2="393" y2="426.9" stroke="#ff3030" stroke-width="6"/>
<rect x="321.3" y="421.9" width="10" height="10" fill="#ff3030"/>
<text x="403.5" y="446.1" font-size="47.5">R40C20</text>
<line x1="259" y1="499.5" x2="393" y2="499.5" stroke="#c06fe2" stroke-width="6"/>
<rect x="321.3" y="494.5" width="10" height="10" fill="#c06fe2"/>
<text x="403.5" y="518.7" font-size="47.5">R60C20</text>
<rect x="748.3" y="163.7" width="700.3" height="567.3" fill="#fff"/>
<path d="M748.3 674.27H1448.6M748.3 617.54H1448.6M748.3 560.81H1448.6M748.3 504.08H1448.6M748.3 447.35H1448.6M748.3 390.62H1448.6M748.3 333.89H1448.6M748.3 277.16H1448.6M748.3 220.43H1448.6M818.33 163.7V731M888.36 163.7V731M958.39 163.7V731M1028.42 163.7V731M1098.45 163.7V731M1168.48 163.7V731M1238.51 163.7V731M1308.54 163.7V731M1378.57 163.7V731" stroke="#c4c4c4" stroke-width="2.2" stroke-dasharray="3 3" fill="none"/>
<path d="M748.3 674.27H753.8M1448.6 674.27H1443.1M748.3 617.54H758.3M1448.6 617.54H1438.6M748.3 560.81H753.8M1448.6 560.81H1443.1M748.3 504.08H758.3M1448.6 504.08H1438.6M748.3 447.35H753.8M1448.6 447.35H1443.1M748.3 390.62H758.3M1448.6 390.62H1438.6M748.3 333.89H753.8M1448.6 333.89H1443.1M748.3 277.16H758.3M1448.6 277.16H1438.6M748.3 220.43H753.8M1448.6 220.43H1443.1M818.33 731V721M818.33 163.7V173.7M888.36 731V725.5M888.36 163.7V169.2M958.39 731V721M958.39 163.7V173.7M1028.42 731V725.5M1028.42 163.7V169.2M1098.45 731V721M1098.45 163.7V173.7M1168.48 731V725.5M1168.48 163.7V169.2M1238.51 731V721M1238.51 163.7V173.7M1308.54 731V725.5M1308.54 163.7V169.2M1378.57 731V721M1378.57 163.7V173.7" stroke="#333" stroke-width="3" fill="none"/>
<rect x="748.3" y="163.7" width="700.3" height="567.3" fill="none" stroke="#333" stroke-width="3.6"/>
<polyline points="818.33,623.21 958.39,617.26 1098.45,657.82 1238.51,609.6 1378.57,671.43" fill="none" stroke="#444444" stroke-width="2.7" stroke-linejoin="round"/>
<rect x="814.08" y="618.96" width="8.5" height="8.5" fill="#444444"/>
<rect x="954.14" y="613.01" width="8.5" height="8.5" fill="#444444"/>
<rect x="1094.2" y="653.57" width="8.5" height="8.5" fill="#444444"/>
<rect x="1234.26" y="605.35" width="8.5" height="8.5" fill="#444444"/>
<rect x="1374.32" y="667.18" width="8.5" height="8.5" fill="#444444"/>
<polyline points="818.33,594.28 958.39,652.71 1098.45,716.25 1238.51,644.2 1378.57,719.09" fill="none" stroke="#ff3838" stroke-width="2.7" stroke-linejoin="round"/>
<rect x="814.08" y="590.03" width="8.5" height="8.5" fill="#ff3838"/>
<rect x="954.14" y="648.46" width="8.5" height="8.5" fill="#ff3838"/>
<rect x="1094.2" y="712" width="8.5" height="8.5" fill="#ff3838"/>
<rect x="1234.26" y="639.95" width="8.5" height="8.5" fill="#ff3838"/>
<rect x="1374.32" y="714.84" width="8.5" height="8.5" fill="#ff3838"/>
<polyline points="818.33,410.48 958.39,357.72 1098.45,252.77 1238.51,373.6 1378.57,235.75" fill="none" stroke="#0a6ee6" stroke-width="2.7" stroke-linejoin="round"/>
<rect x="814.08" y="406.23" width="8.5" height="8.5" fill="#0a6ee6"/>
<rect x="954.14" y="353.47" width="8.5" height="8.5" fill="#0a6ee6"/>
<rect x="1094.2" y="248.52" width="8.5" height="8.5" fill="#0a6ee6"/>
<rect x="1234.26" y="369.35" width="8.5" height="8.5" fill="#0a6ee6"/>
<rect x="1374.32" y="231.5" width="8.5" height="8.5" fill="#0a6ee6"/>
<text transform="translate(724.28 739.3) scale(1 1.05)" font-size="24.5">0</text>
<text transform="translate(712.03 625.84) scale(1 1.05)" font-size="24.5">20</text>
<text transform="translate(712.03 512.38) scale(1 1.05)" font-size="24.5">40</text>
<text transform="translate(712.03 398.92) scale(1 1.05)" font-size="24.5">60</text>
<text transform="translate(712.03 285.46) scale(1 1.05)" font-size="24.5">80</text>
<text transform="translate(699.78 172) scale(1 1.05)" font-size="24.5">100</text>
<g font-size="24" text-anchor="middle">
<text x="818.33" y="762">R20C10</text>
<text x="958.39" y="762">R20C15</text>
<text x="1098.45" y="762">R20C20</text>
<text x="1238.51" y="762">R40C20</text>
<text x="1378.57" y="762">R60C20</text>
</g>
<text transform="translate(689.5 444.3) rotate(-90) scale(1 1.08)" font-size="29" text-anchor="middle">Percent(%)</text>
<rect x="768.5" y="189" width="119.2" height="94.3" fill="#000"/>
<rect x="762" y="182.5" width="118.4" height="93.5" fill="#fff" stroke="#8c8c8c" stroke-width="2"/>
<line x1="767" y1="198.7" x2="819.5" y2="198.7" stroke="#3c3c3c" stroke-width="3"/>
<rect x="787.8" y="194.7" width="8" height="8" fill="#3c3c3c"/>
<text x="826.5" y="206.2" font-size="22.5">Clay</text>
<line x1="767" y1="229.3" x2="819.5" y2="229.3" stroke="#ff2a2a" stroke-width="3"/>
<rect x="787.8" y="225.3" width="8" height="8" fill="#ff2a2a"/>
<text x="826.5" y="236.8" font-size="22.5">Slit</text>
<line x1="767" y1="259" x2="819.5" y2="259" stroke="#0a6ee6" stroke-width="3"/>
<rect x="787.8" y="255" width="8" height="8" fill="#0a6ee6"/>
<text x="826.5" y="266.5" font-size="22.5">Sand</text>
</svg></body></html>
